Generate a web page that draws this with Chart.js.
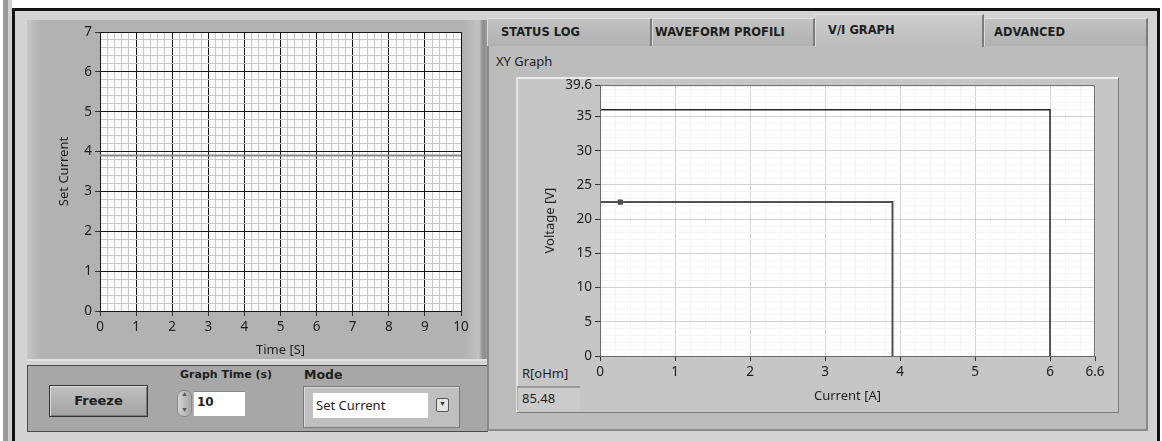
<!DOCTYPE html>
<html>
<head>
<meta charset="utf-8">
<script src="https://cdn.jsdelivr.net/npm/chart.js@4.4.1/dist/chart.umd.min.js"></script>
<style>
  body { margin: 0; width: 1162px; height: 441px; background: #fff; position: relative; overflow: hidden; font-family: "DejaVu Sans", sans-serif; color: #1e1e1e; }
  .abs { position: absolute; box-sizing: border-box; }
  .lbl { position: absolute; white-space: nowrap; font-family: "Noto Sans", sans-serif; font-size: 13px; color: #1e1e1e; }
  .bold { font-family: "DejaVu Sans", sans-serif; font-weight: bold; }
  .tab { position: absolute; top: 18px; height: 28px; box-sizing: border-box; background: linear-gradient(#c2c2c2, #b1b1b1); border-top: 1px solid #e2e2e2; border-left: 1px solid #dcdcdc; border-right: 2px solid #7c7c7c; font-weight: bold; font-size: 11.5px; line-height: 27px; white-space: nowrap; overflow: hidden; }
</style>
</head>
<body>
<!-- outer frame -->
<div class="abs" style="left:3px;top:0;width:5px;height:441px;background:#9a9a9a"></div>
<div class="abs" style="left:8px;top:0;width:4px;height:441px;background:#cfcfcf"></div>
<div class="abs" style="left:12px;top:8px;width:1148px;height:433px;border-left:3px solid #111;border-top:3px solid #111;border-right:3px solid #111;background:#d3d3d3"></div>

<!-- left chart frame -->
<div class="abs" style="left:27px;top:20px;width:460px;height:341px;background:linear-gradient(to right,#c6c6c6 0,#b2b2b2 14px,#b2b2b2 436px,#c2c2c2 452px,#8c8c8c 456px,#9a9a9a 460px);border-bottom:2px solid #e0e0e0"></div>

<!-- controls panel -->
<div class="abs" style="left:27px;top:365px;width:461px;height:67px;background:#a7a7a7;border:1px solid #4a4a4a"></div>
<div class="abs" style="left:49px;top:385px;width:99px;height:32px;background:linear-gradient(#c0c0c0,#a2a2a2);border:1px solid #333;box-shadow:inset 1px 1px 0 #dcdcdc, inset -1px -1px 0 #7a7a7a"></div>
<div class="lbl bold" style="left:49px;top:393px;width:99px;text-align:center;font-size:13px">Freeze</div>
<div class="lbl bold" style="left:180px;top:368px;font-size:11px">Graph Time (s)</div>
<div class="abs" style="left:177px;top:390px;width:15px;height:27px;background:linear-gradient(to right,#d4d4d4,#a6a6a6);border:1px solid #8a8a8a;border-radius:7px"></div>
<div class="lbl" style="left:181px;top:389px;font-size:7px;color:#555">&#9650;</div>
<div class="lbl" style="left:181px;top:405px;font-size:7px;color:#555">&#9660;</div>
<div class="abs" style="left:193px;top:391px;width:52px;height:25px;background:#fff;border-top:1px solid #8a8a8a;border-left:1px solid #bdbdbd"></div>
<div class="lbl bold" style="left:197px;top:395px;font-size:12px">10</div>
<div class="lbl bold" style="left:304px;top:367px;font-size:12.5px">Mode</div>
<div class="abs" style="left:303px;top:386px;width:157px;height:42px;background:#bfbfbf;border:1px solid #7a7a7a;box-shadow:inset 1px 1px 0 #dadada"></div>
<div class="abs" style="left:313px;top:393px;width:115px;height:25px;background:#fff"></div>
<div class="lbl" style="left:316px;top:396px;font-size:13px">Set Current</div>
<div class="abs" style="left:436px;top:398px;width:13px;height:14px;background:#e4e4e4;border:1px solid #555;border-radius:2px"></div>
<div class="lbl" style="left:439px;top:399px;font-size:7px;color:#333">&#9660;</div>

<!-- tab control -->
<div class="abs" style="left:487px;top:45px;width:661px;height:386px;background:#bcbcbc;border-left:2px solid #8a8a8a;border-right:2px solid #8a8a8a;border-bottom:2px solid #8a8a8a"></div>
<div class="tab" style="left:487px;width:165px;padding-left:13px">STATUS LOG</div>
<div class="tab" style="left:652px;width:163px;padding-left:2px">WAVEFORM PROFILI</div>
<div class="tab" style="left:815px;width:169px;top:14px;height:33px;padding-left:12px;line-height:30px;background:linear-gradient(#cdcdcd,#bcbcbc);border-bottom:none">V/I GRAPH</div>
<div class="tab" style="left:984px;width:164px;padding-left:9px">ADVANCED</div>
<div class="lbl" style="left:496px;top:52px">XY Graph</div>

<!-- XY graph frame -->
<div class="abs" style="left:516px;top:77px;width:602px;height:335px;background:#c6c6c6;border-top:2px solid #ececec;border-left:2px solid #e4e4e4;box-shadow:1px 1px 0 #7a7a7a"></div>
<div class="lbl" style="left:522px;top:364px">R[oHm]</div>
<div class="abs" style="left:517px;top:386px;width:63px;height:24px;background:#cbcbcb;border-top:2px solid #9a9a9a;border-left:1px solid #a8a8a8"></div>
<div class="lbl" style="left:522px;top:389px">85.48</div>

<canvas id="setCurrentChart" class="abs" width="417" height="340" style="left:56px;top:20px"></canvas>
<canvas id="viChart" class="abs" width="568" height="332" style="left:542px;top:74px"></canvas>

<script>
// left chart: set current over time
const timeTicks = [0, 1, 2, 3, 4, 5, 6, 7, 8, 9, 10];
const currentTicks = [0, 1, 2, 3, 4, 5, 6, 7];
const timeSec = [0, 2, 4, 6, 8, 10];
const setCurrent = [3.9, 3.9, 3.9, 3.9, 3.9, 3.9];

// right chart: V/I graph
const ampTicks = [0, 1, 2, 3, 4, 5, 6, 6.6];
const voltTicks = [0, 5, 10, 15, 20, 25, 30, 35, 39.6];
const loadCurrent = [0, 3.9, 3.9];
const loadVoltage = [22.5, 22.5, 0];
const limitCurrent = [0, 6, 6];
const limitVoltage = [36, 36, 0];
const cursorCurrent = [0.27];
const cursorVoltage = [22.5];

Chart.defaults.font.family = '"Noto Sans", sans-serif';
Chart.defaults.font.size = 13;
Chart.defaults.color = '#1e1e1e';

function withMinors(majors, step) {
    let vals = majors.slice();
    let max = majors[majors.length - 1];
    for (let k = 0; k * step <= max + 1e-9; k++) {
        let v = Math.round(k * step * 1000) / 1000;
        if (!vals.some(m => Math.abs(m - v) < 1e-6)) vals.push(v);
    }
    return vals.sort((a, b) => a - b);
}

function isIn(list, v) {
    return list.some(m => Math.abs(m - v) < 1e-6);
}

function pairs(xs, ys) {
    return xs.map((x, i) => ({ x: x, y: ys[i] }));
}

const plotBg = {
    id: 'plotBg',
    beforeDraw(chart, args, opts) {
        let a = chart.chartArea;
        let ctx = chart.ctx;
        ctx.save();
        ctx.fillStyle = opts.color;
        ctx.fillRect(a.left, a.top, a.right - a.left, a.bottom - a.top);
        ctx.restore();
    },
    afterDraw(chart, args, opts) {
        if (!opts.border) return;
        let a = chart.chartArea;
        let ctx = chart.ctx;
        ctx.save();
        ctx.strokeStyle = opts.border;
        ctx.lineWidth = 1;
        ctx.strokeRect(a.left + 0.5, a.top + 0.5, a.right - a.left - 1, a.bottom - a.top);
        ctx.restore();
    }
};

function axis(majors, step, opts) {
    return {
        type: 'linear',
        min: majors[0],
        max: majors[majors.length - 1],
        afterBuildTicks: s => { s.ticks = withMinors(majors, step).map(v => ({ value: v })); },
        afterFit: opts.fit,
        ticks: {
            autoSkip: false,
            maxRotation: 0,
            padding: 3,
            font: { size: 13.5 },
            callback: v => isIn(majors, v) ? String(v) : ''
        },
        grid: {
            drawTicks: true,
            tickLength: 5,
            color: c => isIn(majors, c.tick.value) ? opts.major : opts.minor,
            tickColor: c => isIn(majors, c.tick.value) ? '#333' : 'rgba(0,0,0,0)',
            lineWidth: 1
        },
        border: { display: true, color: opts.axisColor },
        title: { display: true, text: opts.title, padding: { top: 0, bottom: 2 }, font: { size: 13 } }
    };
}

new Chart(document.getElementById('setCurrentChart'), {
    type: 'scatter',
    data: {
        datasets: [{
            data: pairs(timeSec, setCurrent),
            showLine: true,
            borderColor: '#8a8a8a',
            borderWidth: 2,
            pointRadius: 0
        }]
    },
    options: {
        responsive: false,
        animation: false,
        layout: { padding: { left: 0, top: 12, right: 12, bottom: 0 } },
        plugins: { legend: { display: false }, tooltip: { enabled: false }, plotBg: { color: '#fbfbfb' } },
        scales: {
            x: axis(timeTicks, 0.2, { fit: s => { s.height = 49; }, major: '#151515', minor: '#c8c8c8', axisColor: '#151515', title: 'Time [S]' }),
            y: axis(currentTicks, 0.2, { fit: s => { s.width = 44; }, major: '#151515', minor: '#c8c8c8', axisColor: '#151515', title: 'Set Current' })
        }
    },
    plugins: [plotBg]
});

new Chart(document.getElementById('viChart'), {
    type: 'scatter',
    data: {
        datasets: [{
            data: pairs(limitCurrent, limitVoltage),
            showLine: true,
            borderColor: '#262626',
            borderWidth: 1.5,
            pointRadius: 0
        }, {
            data: pairs(loadCurrent, loadVoltage),
            showLine: true,
            borderColor: '#505050',
            borderWidth: 2,
            pointRadius: 0
        }, {
            data: pairs(cursorCurrent, cursorVoltage),
            pointStyle: 'rect',
            pointRadius: 3,
            backgroundColor: '#4a4a4a',
            borderColor: '#4a4a4a',
            borderWidth: 1
        }]
    },
    options: {
        responsive: false,
        animation: false,
        layout: { padding: { left: 0, top: 10, right: 15, bottom: 0 } },
        plugins: { legend: { display: false }, tooltip: { enabled: false }, plotBg: { color: '#ffffff', border: '#6a6a6a' } },
        scales: {
            x: axis(ampTicks, 0.2, { fit: s => { s.height = 50; }, major: '#d2d2d2', minor: '#f4f4f4', axisColor: '#6a6a6a', title: 'Current [A]' }),
            y: axis(voltTicks, 1, { fit: s => { s.width = 58; }, major: '#d2d2d2', minor: '#f4f4f4', axisColor: '#6a6a6a', title: 'Voltage [V]' })
        }
    },
    plugins: [plotBg]
});
</script>
</body>
</html>
